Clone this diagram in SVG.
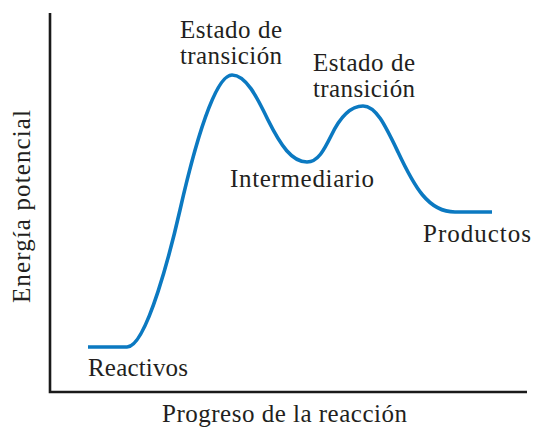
<svg xmlns="http://www.w3.org/2000/svg" width="533" height="429" viewBox="0 0 533 429">
<style>
.t{font-family:"Liberation Serif","Times New Roman",serif;font-size:25px;fill:#231f20}
.ax{stroke:#1a1a1a;stroke-width:2.6;fill:none}
.cv{stroke:#0b79c1;stroke-width:3.6;fill:none;stroke-linejoin:round}
</style>
<rect width="533" height="429" fill="#fff"/>
<g id="axes">
<path class="ax" d="M50,13 V392 H527"/>
</g>
<g id="curve">
<path class="cv" d="M88,347 H127 C147,347 172,245 180,210 C195,144 215,75 232,75 C246,75 257,97 268,120 C281,146 292,162 307,162 C318,162 324,150 331,136 C340,117 350,106 363,106 C376,106 385,125 398,152 C414,186 428,212 455,212 H492"/>
</g>
<g id="ts1">
<text class="t" x="180" y="37.5" textLength="102" lengthAdjust="spacing">Estado de</text>
<text class="t" x="180" y="63.5" textLength="102" lengthAdjust="spacing">transición</text>
</g>
<g id="ts2">
<text class="t" x="313" y="70.7" textLength="102" lengthAdjust="spacing">Estado de</text>
<text class="t" x="313" y="97" textLength="102" lengthAdjust="spacing">transición</text>
</g>
<g id="intermediario">
<text class="t" x="230" y="187" textLength="144" lengthAdjust="spacing">Intermediario</text>
</g>
<g id="productos">
<text class="t" x="423" y="242" textLength="108" lengthAdjust="spacing">Productos</text>
</g>
<g id="reactivos">
<text class="t" x="88" y="376" textLength="100" lengthAdjust="spacing">Reactivos</text>
</g>
<g id="xlabel">
<text class="t" x="162" y="422" textLength="245" lengthAdjust="spacing">Progreso de la reacción</text>
</g>
<g id="ylabel">
<text class="t" transform="translate(29.5,303) rotate(-90)" x="0" y="0" textLength="193" lengthAdjust="spacing">Energía potencial</text>
</g>
</svg>
